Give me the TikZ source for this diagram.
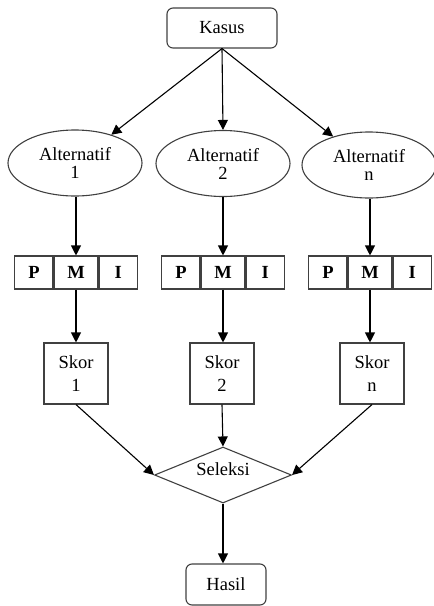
\documentclass[tikz,border=0pt]{standalone}
\usepackage{fontspec}
\setmainfont{Liberation Serif}
\usetikzlibrary{arrows.meta,shapes.geometric}
\begin{document}
\begin{tikzpicture}[x=1pt,y=-1pt,
  font=\fontsize{18.5}{18}\selectfont,
  outline/.style={draw=black!75,line width=1.1pt},
  roundbox/.style={outline,rectangle,rounded corners=6pt,inner sep=0pt},
  altnode/.style={outline,ellipse,minimum width=134pt,minimum height=66pt,inner sep=0pt,align=center},
  cell/.style={outline,rectangle,minimum height=33pt,inner sep=0pt,font=\fontsize{18.5}{18}\selectfont\bfseries},
  skorbox/.style={outline,rectangle,minimum width=64pt,minimum height=61pt,inner sep=0pt,align=center,
    font=\fontsize{18.5}{23}\selectfont},
  conn/.style={draw=black,line width=1.1pt,-{Triangle[length=10pt,width=10pt]}},
  plain/.style={draw=black,line width=1.1pt}]
\useasboundingbox (0,0) rectangle (434,606);

% top case
\node[roundbox,minimum width=110pt,minimum height=40pt] (kasus) at (222,28) {Kasus};

% alternatives
\node[altnode] (alt1) at (75,163) {Alternatif\\1};
\node[altnode] (alt2) at (223,163.5) {Alternatif\\2};
\node[altnode] (alt3) at (369,165) {Alternatif\\n};

% P M I rows
\foreach \k/\x in {1/76,2/223,3/370}{
  \node[cell,minimum width=44pt] (m\k) at (\x,272.5) {M};
  \node[cell,minimum width=38pt,anchor=east] (p\k) at (m\k.west) {P};
  \node[cell,minimum width=38pt,anchor=west] (i\k) at (m\k.east) {I};
}

% scores
\node[skorbox] (skor1) at (76,373.5) {Skor\\1};
\node[skorbox] (skor2) at (222,373.5) {Skor\\2};
\node[skorbox] (skor3) at (372,373.5) {Skor\\n};

% selection
\node[outline,diamond,minimum width=137pt,minimum height=56pt,inner sep=0pt] (sel) at (223,475) {\smash{\makebox[0pt]{Seleksi}}};

% result
\node[roundbox,minimum width=80pt,minimum height=41pt] (hasil) at (226,584.5) {Hasil};

% connectors
\draw[conn] (kasus.south) -- (alt1);
\draw[conn] (kasus.south) -- (alt2.north);
\draw[conn] (kasus.south) -- (alt3);
\foreach \k in {1,2,3}{
  \draw[conn] (alt\k.south -| m\k.north) -- (m\k.north);
  \draw[conn] (m\k.south) -- (skor\k.north -| m\k.south);
}
\draw[conn] (skor1.south) -- (sel.west);
\draw[conn] (skor2.south) -- (sel.north);
\draw[conn] (skor3.south) -- (sel.east);
\draw[conn] (sel.south) -- (sel.south |- hasil.north);
\end{tikzpicture}
\end{document}
